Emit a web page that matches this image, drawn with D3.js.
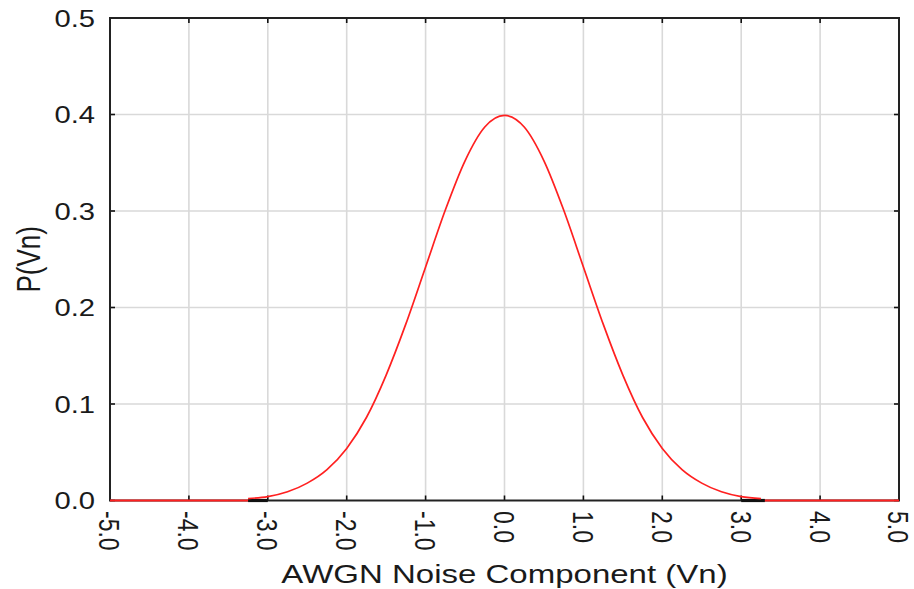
<!DOCTYPE html>
<html lang="en">
<head>
  <meta charset="UTF-8">
  <title>AWGN Noise PDF</title>
  <script src="https://d3js.org/d3.v7.min.js"></script>
  <style>
    body { margin: 0; background: #fff; }
    svg { display: block; font-family: "Liberation Sans", Arial, sans-serif; }
    .tick-label { font-size: 23px; fill: #1a1a1a; }
    .axis-title { font-size: 26px; fill: #1a1a1a; }
  </style>
</head>
<body>
<svg id="chart" width="914" height="589"></svg>

<script>
  // values
  const xTicks = [-5, -4, -3, -2, -1, 0, 1, 2, 3, 4, 5];
  const yTicks = [0, 0.1, 0.2, 0.3, 0.4, 0.5];
  const curveX = [-3.25, -3.0, -2.75, -2.5, -2.25, -2.0, -1.75, -1.5, -1.25, -1.0, -0.75, -0.5, -0.25, 0,
                  0.25, 0.5, 0.75, 1.0, 1.25, 1.5, 1.75, 2.0, 2.25, 2.5, 2.75, 3.0, 3.25];
  const curveY = [0.002, 0.004, 0.009, 0.018, 0.032, 0.054, 0.086, 0.130, 0.183, 0.242, 0.301, 0.352, 0.387, 0.399,
                  0.387, 0.352, 0.301, 0.242, 0.183, 0.130, 0.086, 0.054, 0.032, 0.018, 0.009, 0.004, 0.002];
  const tailLeftX = [-5, -3.25];
  const tailRightX = [3.3, 5];
  const darkSegX = [[-3.25, -3.0], [3.0, 3.3]];

  const svg = d3.select("#chart");
  const stretch = 1.27; // text in the picture is widened horizontally

  const x = d3.scaleLinear().domain([-5, 5]).range([110, 899]);
  const y = d3.scaleLinear().domain([0, 0.5]).range([500.5, 18]);

  // grid
  svg.append("g").selectAll("line.gx")
    .data(xTicks.slice(1, -1))
    .enter().append("line")
    .attr("x1", d => x(d)).attr("x2", d => x(d))
    .attr("y1", y(0.5)).attr("y2", y(0))
    .attr("stroke", "#d9d9d9").attr("stroke-width", 1.6);

  svg.append("g").selectAll("line.gy")
    .data(yTicks.slice(1, -1))
    .enter().append("line")
    .attr("x1", x(-5)).attr("x2", x(5))
    .attr("y1", d => y(d)).attr("y2", d => y(d))
    .attr("stroke", "#d9d9d9").attr("stroke-width", 1.6);

  // inward ticks on all four sides
  const tk = 5;
  const ticks = svg.append("g").attr("stroke", "#111").attr("stroke-width", 1.6);
  xTicks.forEach(d => {
    ticks.append("line").attr("x1", x(d)).attr("x2", x(d)).attr("y1", y(0)).attr("y2", y(0) - tk);
    ticks.append("line").attr("x1", x(d)).attr("x2", x(d)).attr("y1", y(0.5)).attr("y2", y(0.5) + tk);
  });
  yTicks.forEach(d => {
    ticks.append("line").attr("x1", x(-5)).attr("x2", x(-5) + tk).attr("y1", y(d)).attr("y2", y(d));
    ticks.append("line").attr("x1", x(5)).attr("x2", x(5) - tk).attr("y1", y(d)).attr("y2", y(d));
  });

  // frame
  svg.append("rect")
    .attr("x", x(-5)).attr("y", y(0.5))
    .attr("width", x(5) - x(-5)).attr("height", y(0) - y(0.5))
    .attr("fill", "none").attr("stroke", "#222").attr("stroke-width", 2);

  // dark bits on the baseline
  svg.append("g").selectAll("line")
    .data(darkSegX)
    .enter().append("line")
    .attr("x1", d => x(d[0])).attr("x2", d => x(d[1]))
    .attr("y1", y(0)).attr("y2", y(0))
    .attr("stroke", "#111").attr("stroke-width", 3.2);

  // curve
  const pts = curveX.map((v, i) => [v, curveY[i]]);
  const line = d3.line().x(d => x(d[0])).y(d => y(d[1])).curve(d3.curveMonotoneX);
  svg.append("path")
    .datum(pts)
    .attr("d", line)
    .attr("fill", "none").attr("stroke", "#ff2020").attr("stroke-width", 1.7);

  [tailLeftX, tailRightX].forEach(t => {
    svg.append("path")
      .datum(t.map(v => [v, 0]))
      .attr("d", d3.line().x(d => x(d[0])).y(d => y(d[1])))
      .attr("fill", "none").attr("stroke", "#ff2020").attr("stroke-width", 2);
  });

  // y tick labels
  yTicks.forEach(d => {
    svg.append("text")
      .attr("class", "tick-label")
      .attr("transform", `translate(95,${y(d) + 8.5}) scale(${stretch},1)`)
      .attr("text-anchor", "end")
      .text(d.toFixed(1));
  });

  // x tick labels, rotated clockwise
  xTicks.forEach(d => {
    svg.append("text")
      .attr("class", "tick-label")
      .attr("transform", `translate(${x(d)},511) scale(${stretch},1) rotate(90)`)
      .attr("dy", "0.36em")
      .attr("text-anchor", "start")
      .text(d.toFixed(1));
  });

  // axis titles
  svg.append("text")
    .attr("class", "axis-title")
    .attr("transform", `translate(${(x(-5) + x(5)) / 2},583) scale(${stretch},1)`)
    .attr("text-anchor", "middle")
    .text("AWGN Noise Component (Vn)");

  svg.append("text")
    .attr("class", "axis-title")
    .attr("transform", `translate(40,${(y(0) + y(0.5)) / 2}) scale(${stretch},1) rotate(-90)`)
    .attr("text-anchor", "middle")
    .text("P(Vn)");
</script>
</body>
</html>
